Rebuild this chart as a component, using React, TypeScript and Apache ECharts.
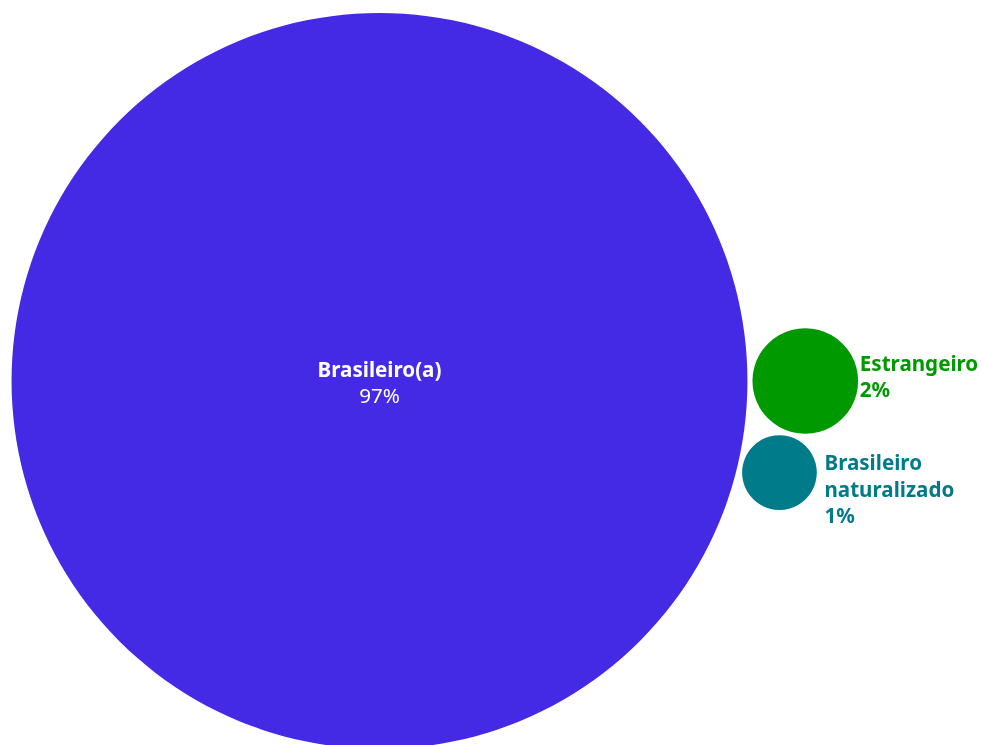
import React, { useEffect, useRef } from 'react';
import * as echarts from 'echarts';

// ---- data ----
const categories = ['Brasileiro(a)', 'Estrangeiro', 'Brasileiro naturalizado'];
const labelLines = [['Brasileiro(a)'], ['Estrangeiro'], ['Brasileiro', 'naturalizado']];
const shares = [97, 2, 1];

// ---- style / layout ----
const colors = ['#4429E5', '#009900', '#007B8A'];
const textColors = ['#ffffff', '#009900', '#007B8A'];
const FONT = '"Noto Sans", "Open Sans", sans-serif';
const FONT_SIZE = 20.6;
const LINE_H = 26.5;
const W = 981;
const H = 745;
const PX_PER_UNIT = 37.36; // pixels per sqrt(share) unit
const ORIGIN_PX = [379.5, 381]; // pixel position of the largest bubble centre
const GAP_PX = 5;
// label offsets from bubble centre (px) and alignment
const labelOffsets = [
  { dx: 0, dy: 1, align: 'center' },
  { dx: 54.5, dy: -5, align: 'left' },
  { dx: 45, dy: 16, align: 'left' },
];

function packBubbles(values: number[]) {
  const r = values.map((v) => Math.sqrt(v));
  const pad = GAP_PX / PX_PER_UNIT;
  const pts: number[][] = [];
  pts.push([0, 0, r[0]]);
  const D = r[0] + r[1] + pad;
  pts.push([D, 0, r[1]]);
  const d1 = r[0] + r[2] + pad;
  const d2 = r[1] + r[2] + pad;
  const x = (d1 * d1 - d2 * d2 + D * D) / (2 * D);
  const y = -Math.sqrt(Math.max(0, d1 * d1 - x * x));
  pts.push([x, y, r[2]]);
  return pts;
}

export default function App() {
  const ref = useRef<HTMLDivElement>(null);
  useEffect(() => {
    const chart = echarts.init(ref.current!, null, { renderer: 'svg' });
    const data = packBubbles(shares);
    const xMin = -ORIGIN_PX[0] / PX_PER_UNIT;
    const xMax = xMin + W / PX_PER_UNIT;
    const yMax = ORIGIN_PX[1] / PX_PER_UNIT;
    const yMin = yMax - H / PX_PER_UNIT;
    chart.setOption({
      animation: false,
      grid: { left: 0, right: 0, top: 0, bottom: 0 },
      xAxis: { type: 'value', min: xMin, max: xMax, show: false },
      yAxis: { type: 'value', min: yMin, max: yMax, show: false },
      series: [
        {
          type: 'custom',
          coordinateSystem: 'cartesian2d',
          clip: false,
          data,
          renderItem: (params: any, api: any) => {
            const i = params.dataIndex;
            const p = api.coord([api.value(0), api.value(1)]);
            const pr = api.size([api.value(2), 0])[0];
            const off = labelOffsets[i];
            const pct = `${shares[i]}%`;
            let text: string;
            let rich: any;
            if (i === 0) {
              text = labelLines[i].map((l) => `{b|${l}}`).join('\n') + `\n{n|${pct}}`;
              rich = {
                b: { fontFamily: FONT, fontSize: FONT_SIZE, fontWeight: 'bold', lineHeight: LINE_H, fill: textColors[i] },
                n: { fontFamily: FONT, fontSize: FONT_SIZE, fontWeight: 'normal', lineHeight: LINE_H, fill: textColors[i] },
              };
            } else {
              text = [...labelLines[i], pct].map((l) => `{b|${l}}`).join('\n');
              rich = {
                b: { fontFamily: FONT, fontSize: FONT_SIZE, fontWeight: 'bold', lineHeight: LINE_H, fill: textColors[i] },
              };
            }
            return {
              type: 'group',
              name: categories[i],
              children: [
                { type: 'circle', shape: { cx: p[0], cy: p[1], r: pr }, style: { fill: colors[i] } },
                {
                  type: 'text',
                  x: p[0] + off.dx,
                  y: p[1] + off.dy,
                  style: { text, rich, align: off.align, verticalAlign: 'middle', fontFamily: FONT, fontSize: FONT_SIZE },
                },
              ],
            };
          },
        },
      ],
    });
    return () => chart.dispose();
  }, []);
  return <div ref={ref} style={{ position: 'fixed', left: 0, top: 0, width: W, height: H }} />;
}
